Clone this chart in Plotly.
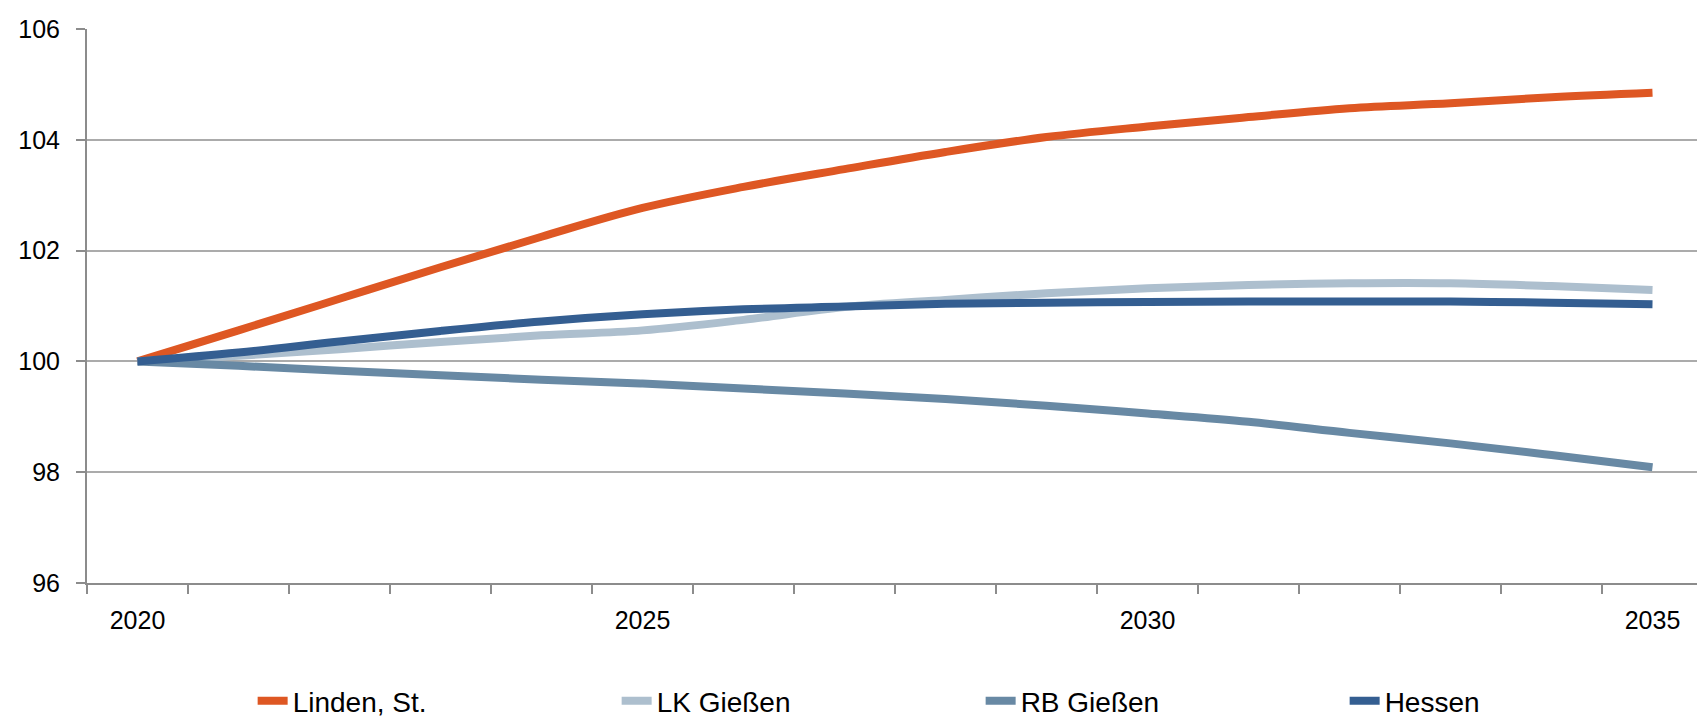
import plotly.graph_objects as go

years = list(range(2020, 2036))

linden = [100.0, 100.56, 101.13, 101.70, 102.25, 102.77, 103.15, 103.47, 103.78,
          104.05, 104.24, 104.41, 104.57, 104.66, 104.77, 104.85]
lk_giessen = [100.0, 100.10, 100.22, 100.35, 100.47, 100.56, 100.75, 100.98, 101.11,
              101.23, 101.32, 101.38, 101.41, 101.41, 101.36, 101.29]
rb_giessen = [100.0, 99.92, 99.83, 99.75, 99.67, 99.60, 99.51, 99.42, 99.32,
              99.20, 99.06, 98.91, 98.71, 98.52, 98.31, 98.09]
hessen = [100.0, 100.16, 100.36, 100.55, 100.72, 100.85, 100.94, 100.99, 101.04,
          101.06, 101.07, 101.08, 101.08, 101.08, 101.06, 101.03]

series = [
    ("Linden, St.", linden, "#DE5723"),
    ("LK Gießen", lk_giessen, "#ADBFCE"),
    ("RB Gießen", rb_giessen, "#6889A4"),
    ("Hessen", hessen, "#345E91"),
]

x_labels = [2020, 2025, 2030, 2035]
boundaries = [y - 0.5 for y in range(2020, 2037)]

FONT = "Liberation Sans Narrow, Arial Narrow, Liberation Sans, Arial, sans-serif"

fig = go.Figure()
for name, vals, color in series:
    fig.add_trace(go.Scatter(
        x=years, y=vals, name=name, mode="lines",
        line=dict(color=color, width=8, shape="spline", smoothing=1.0),
    ))

# page body has an 8px margin, so the figure is drawn 8px smaller and offset
fig.update_layout(
    width=1697, height=710,
    margin=dict(l=79, r=2, t=21, b=135, autoexpand=False),
    paper_bgcolor="white", plot_bgcolor="white",
    font=dict(family=FONT, color="black", size=25),
    showlegend=True,
    legend=dict(
        orientation="h", x=0.553, xanchor="center", y=-0.213, yanchor="middle",
        font=dict(size=28, family=FONT, color="black"),
        entrywidth=319, entrywidthmode="pixels",
        bgcolor="rgba(0,0,0,0)",
    ),
)

fig.update_xaxes(
    range=[2019.5, 2035.5],
    tickvals=x_labels, ticktext=[str(v) for v in x_labels],
    ticks="", showgrid=False, zeroline=False,
    showline=True, linecolor="#8C8C8C", linewidth=2,
    tickfont=dict(size=25, family=FONT, color="black"),
    ticklabelstandoff=14,
    minor=dict(tickvals=boundaries, ticks="outside", ticklen=9,
               tickcolor="#8C8C8C", tickwidth=2, showgrid=False),
)

fig.update_yaxes(
    range=[96, 106], dtick=2, tick0=96,
    showgrid=True, gridcolor="#ABABAB", gridwidth=1.5,
    zeroline=False,
    showline=True, linecolor="#8C8C8C", linewidth=2,
    ticks="outside", ticklen=9, tickcolor="#8C8C8C", tickwidth=2,
    tickfont=dict(size=25, family=FONT, color="black"),
    ticklabelstandoff=11,
)

fig.write_html("out.html")
